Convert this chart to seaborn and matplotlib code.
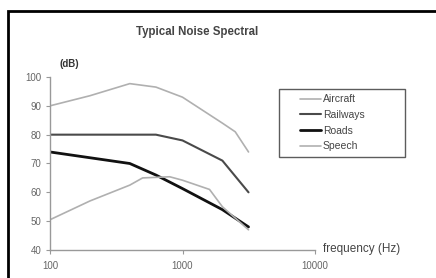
import matplotlib
matplotlib.use("Agg")
import matplotlib.pyplot as plt
from matplotlib.legend_handler import HandlerLine2D
import pandas as pd
import seaborn as sns

# ---- data ----
aircraft_freq = [100, 200, 400, 630, 1000, 2000, 2500, 3150]
aircraft_db = [90, 93.5, 97.7, 96.5, 93, 84, 81, 74]

railways_freq = [100, 630, 1000, 2000, 3150]
railways_db = [80, 80, 78, 71, 60]

roads_freq = [100, 400, 630, 1000, 2000, 3150]
roads_db = [74, 70, 66, 61.3, 54, 48]

speech_freq = [100, 200, 400, 500, 800, 1000, 1600, 2000, 3150]
speech_db = [50.5, 57, 62.5, 65, 65.4, 64.2, 61, 55, 47]

series_names = ["Aircraft", "Railways", "Roads", "Speech"]
y_ticks = [40, 50, 60, 70, 80, 90, 100]
x_ticks = [100, 1000, 10000]

frames = []
for name, f, v in zip(series_names,
                      [aircraft_freq, railways_freq, roads_freq, speech_freq],
                      [aircraft_db, railways_db, roads_db, speech_db]):
    frames.append(pd.DataFrame({"freq": f, "db": v, "source": name}))
data = pd.concat(frames, ignore_index=True)

sns.set_style("white")
plt.rcParams["font.family"] = ["Liberation Sans", "DejaVu Sans"]

fig = plt.figure(figsize=(4.36, 2.78), dpi=100)
ax = fig.add_axes([50 / 436, 1 - 250 / 278, 265 / 436, 173 / 278])

colors = {"Aircraft": "#b0b0b0", "Railways": "#4a4a4a",
          "Roads": "#111111", "Speech": "#b0b0b0"}
widths = {"Aircraft": 1.2, "Railways": 1.5, "Roads": 2.0, "Speech": 1.2}

for name in series_names:
    sns.lineplot(data=data[data["source"] == name], x="freq", y="db",
                 color=colors[name], linewidth=widths[name], label=name,
                 ax=ax, sort=False)

ax.set_xscale("log")
ax.set_xlim(100, 10000)
ax.set_ylim(40, 100)
ax.set_xticks(x_ticks)
ax.set_xticklabels([str(t) for t in x_ticks])
ax.minorticks_off()
ax.set_yticks(y_ticks)
ax.set_xlabel("")
ax.set_ylabel("")

for side in ["top", "right"]:
    ax.spines[side].set_visible(False)
for side in ["left", "bottom"]:
    ax.spines[side].set_color("#999999")
    ax.spines[side].set_linewidth(1.0)
ax.tick_params(axis="both", labelsize=7, colors="#999999", labelcolor="#666666",
               length=3, width=0.8, direction="out", left=True, bottom=True)
ax.tick_params(axis="y", pad=3)
ax.tick_params(axis="x", pad=5)

handles, labels = ax.get_legend_handles_labels()
leg = ax.legend(handles, labels, loc="upper left",
                bbox_to_anchor=(229 / 265, 1 - 12 / 173, 126 / 265, 0.0),
                mode="expand", fontsize=7.5, frameon=True, fancybox=False,
                borderpad=0.5, handlelength=3.5, handletextpad=0.2,
                labelspacing=0.55, borderaxespad=0,
                handler_map={h: HandlerLine2D(xpad=1.5) for h in handles})
leg.get_frame().set_edgecolor("#333333")
leg.get_frame().set_linewidth(1.0)
for t in leg.get_texts():
    t.set_color("#444444")

fig.text(197 / 436, 1 - 32 / 278, "Typical Noise Spectral", ha="center",
         va="center", fontsize=8.3, fontweight="bold", color="#444444")
fig.text(69 / 436, 1 - 64 / 278, "(dB)", ha="center", va="center",
         fontsize=7, fontweight="bold", color="#333333")
fig.text(323 / 436, 1 - 249 / 278, "frequency (Hz)", ha="left", va="center",
         fontsize=8.5, color="#444444")

# outer frame (only top and left edges inside the image)
frame = plt.Rectangle((8 / 436, -0.05), 1.2, 1 - 11 / 278 + 0.05,
                      transform=fig.transFigure, fill=False,
                      edgecolor="black", linewidth=2.0)
fig.patches.append(frame)

fig.savefig("out.png", dpi=100)
